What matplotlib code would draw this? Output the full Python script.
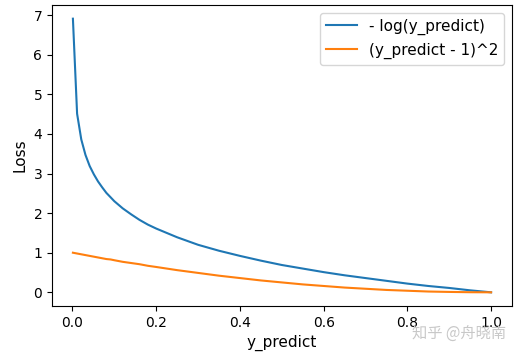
import matplotlib
matplotlib.use('Agg')
import matplotlib.pyplot as plt

# values
y_predict = [0.001, 0.011, 0.021, 0.031, 0.041, 0.051, 0.061, 0.071, 0.081, 0.091,
             0.1, 0.12, 0.14, 0.16, 0.18, 0.2, 0.25, 0.3, 0.35, 0.4, 0.45, 0.5,
             0.55, 0.6, 0.65, 0.7, 0.75, 0.8, 0.85, 0.9, 0.95, 1.0]
log_loss = [6.91, 4.51, 3.86, 3.47, 3.19, 2.98, 2.80, 2.65, 2.51, 2.40,
            2.30, 2.12, 1.97, 1.83, 1.71, 1.61, 1.39, 1.20, 1.05, 0.92, 0.80, 0.69,
            0.60, 0.51, 0.43, 0.36, 0.29, 0.22, 0.16, 0.11, 0.05, 0.0]
sq_loss = [1.0, 0.98, 0.96, 0.94, 0.92, 0.90, 0.88, 0.86, 0.84, 0.83,
           0.81, 0.77, 0.74, 0.71, 0.67, 0.64, 0.56, 0.49, 0.42, 0.36, 0.30, 0.25,
           0.20, 0.16, 0.12, 0.09, 0.06, 0.04, 0.02, 0.01, 0.0025, 0.0]

fig = plt.figure(figsize=(5.18, 3.59), dpi=100)
ax = fig.add_axes([52/518, 1-306/359, 460/518, 301/359])

ax.plot(y_predict, log_loss, label="- log(y_predict)")
ax.plot(y_predict, sq_loss, label="(y_predict - 1)^2")
ax.set_xlabel("y_predict", fontsize=11)
ax.set_ylabel("Loss", fontsize=11)
ax.legend(fontsize=11)

# watermark
fig.text(412/518, 1-333/359, "知乎 @舟晓南", color='#c8c8c8', fontsize=11,
         va='center', family=['Noto Sans CJK SC', 'DejaVu Sans'])

fig.savefig("out.png", dpi=100)
